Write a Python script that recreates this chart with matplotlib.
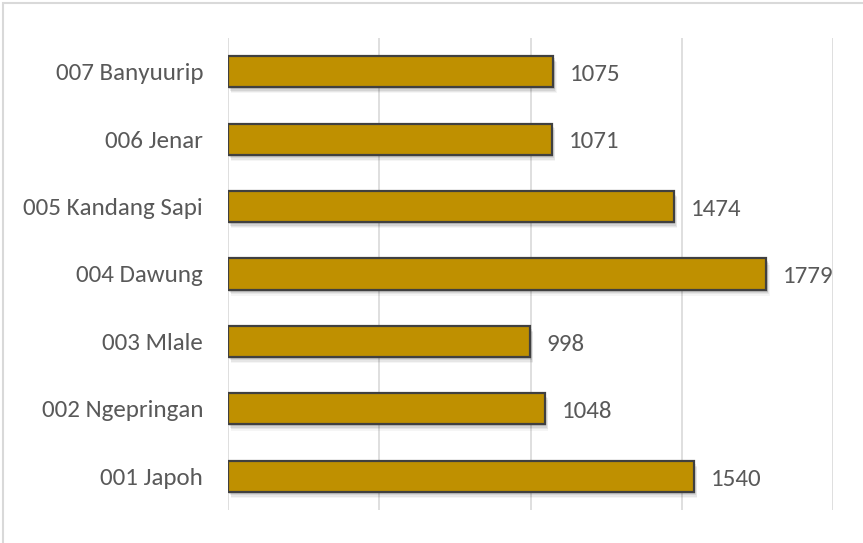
import matplotlib
matplotlib.use("Agg")
import matplotlib.pyplot as plt
import matplotlib.patheffects as pe
from matplotlib.patches import Rectangle

# ── Data ──────────────────────────────────────────────────────────────────────
categories = ["001 Japoh", "002 Ngepringan", "003 Mlale", "004 Dawung",
              "005 Kandang Sapi", "006 Jenar", "007 Banyuurip"]
values = [1540, 1048, 998, 1779, 1474, 1071, 1075]
x_ticks = [0, 500, 1000, 1500, 2000]

# ── Style ─────────────────────────────────────────────────────────────────────
plt.rcParams["font.family"] = ["Carlito", "Lato", "DejaVu Sans"]
GOLD = "#BF9000"
EDGE = "#404040"
TEXT = "#595959"
GRID = "#D9D9D9"
FS = 18

fig = plt.figure(figsize=(8.63, 5.43), dpi=100)
ax = fig.add_axes([228 / 863, 1 - 510 / 543, (833 - 228) / 863, (510 - 38) / 543])

y = range(len(categories))
bars = ax.barh(y, values, height=0.46, color=GOLD, edgecolor=EDGE,
               linewidth=1.6, zorder=3)
# soft drop shadow: a few stacked faint offsets
shadow = [pe.SimplePatchShadow(offset=(dx, dy), shadow_rgbFace="#000000", alpha=a)
          for dx, dy, a in [(1, -1.5, 0.10), (1.5, -2.5, 0.08), (2, -3.5, 0.06), (2.5, -4.5, 0.04)]]
for b in bars:
    b.set_path_effects(shadow + [pe.Normal()])

for yi, v in zip(y, values):
    ax.annotate(f"{v}", (v, yi), xytext=(12, -2), textcoords="offset points",
                va="center", ha="left", fontsize=FS, color=TEXT)

ax.set_xlim(0, 2000)
ax.set_ylim(-0.5, len(categories) - 0.5)
ax.set_xticks(x_ticks)
ax.set_xticklabels([])
ax.tick_params(axis="x", length=0)
ax.tick_params(axis="y", length=0, pad=18)
ax.set_yticks(list(y))
ax.set_yticklabels(categories, fontsize=FS, color=TEXT)
ax.grid(axis="x", color=GRID, lw=1.2, zorder=0)
for s in ax.spines.values():
    s.set_visible(False)

# chart border
fig.patches.append(Rectangle((3 / 863, -0.01), 1.02, 1 - 3 / 543 + 0.01,
                             transform=fig.transFigure, fill=False,
                             ec=GRID, lw=1.5))

fig.savefig("out.png", dpi=100)
